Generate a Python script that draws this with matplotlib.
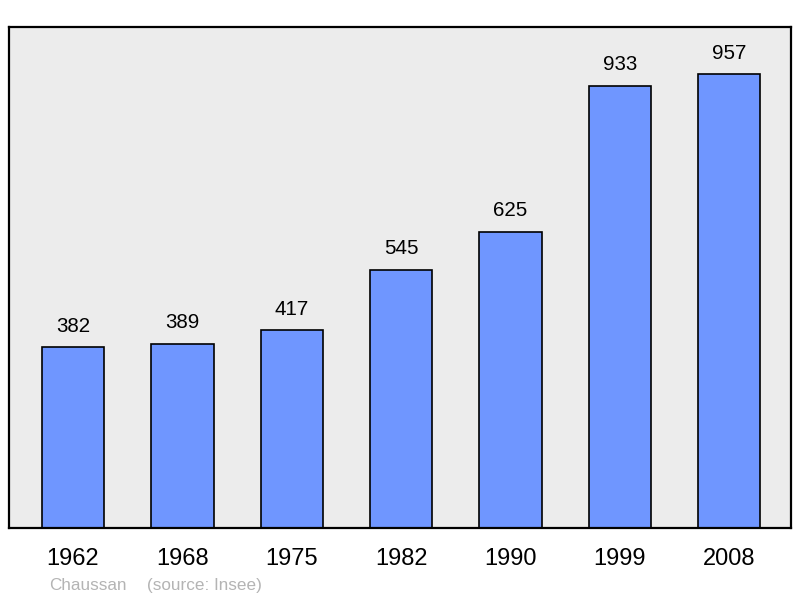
import matplotlib.pyplot as plt

plt.rcParams['font.family'] = ['Liberation Sans', 'DejaVu Sans']

annees = ['1962', '1968', '1975', '1982', '1990', '1999', '2008']
population = [382, 389, 417, 545, 625, 933, 957]

fig = plt.figure(figsize=(8, 5.98), dpi=100)
ax = fig.add_axes([9 / 800, 70 / 598, 782 / 800, 501 / 598])
ax.set_facecolor('#ececec')

x = list(range(len(annees)))
ax.bar(x, population, width=0.57, color='#6f96ff', edgecolor='black', linewidth=1.2)

for xi, v in zip(x, population):
    ax.annotate(str(v), (xi, v), xytext=(0, 11), textcoords='offset points',
                ha='center', va='baseline', fontsize=14.8)

for xi, a in zip(x, annees):
    ax.text(xi, -37 / 501, a, transform=ax.get_xaxis_transform(),
            ha='center', va='baseline', fontsize=17)

ax.set_xlim(-0.585, 6.565)
ax.set_ylim(0, 1057)
ax.set_xticks([])
ax.set_yticks([])
for s in ax.spines.values():
    s.set_linewidth(1.6)

fig.text(49 / 800, 1 - 590 / 598, 'Chaussan', color='#b4b4b4', fontsize=12.3, va='baseline')
fig.text(147 / 800, 1 - 590 / 598, '(source: Insee)', color='#b4b4b4', fontsize=12.3, va='baseline')

fig.savefig('out.png', dpi=100)
